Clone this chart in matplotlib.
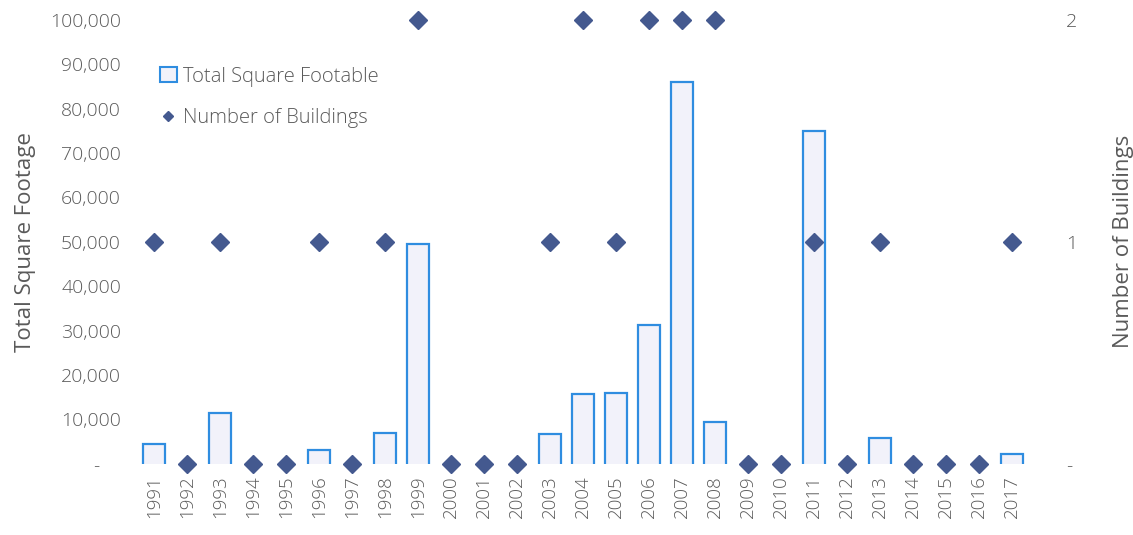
#!/usr/bin/env python3
import matplotlib
matplotlib.use('Agg')
import matplotlib.pyplot as plt
from matplotlib.lines import Line2D
from matplotlib.patches import Patch

years = [str(y) for y in range(1991, 2018)]
square_feet = [4500, 0, 11500, 0, 0, 3200, 0, 7000, 49500, 0, 0, 0,
               6800, 15700, 15900, 31300, 86000, 9500, 0, 0, 75000, 0,
               5800, 0, 0, 0, 2200]
buildings = [1, 0, 1, 0, 0, 1, 0, 1, 2, 0, 0, 0,
             1, 2, 1, 2, 2, 2, 0, 0, 1, 0,
             1, 0, 0, 0, 1]
left_ticks = [0, 10000, 20000, 30000, 40000, 50000, 60000, 70000,
              80000, 90000, 100000]
right_ticks = [0, 1, 2]

plt.rcParams['font.family'] = ['Open Sans', 'DejaVu Sans']
plt.rcParams['font.weight'] = 'light'
text_col = '#5a5a5a'
edge_col = '#2f8de0'
fill_col = '#f2f2fa'
dot_col = '#44598f'

fig = plt.figure(figsize=(11.33, 5.35), dpi=100)
ax = fig.add_axes([0.124, 0.133, 0.785, 0.83])
ax2 = ax.twinx()

x = list(range(len(years)))
w = 0.66
ax.bar(x, square_feet, width=w, color=fill_col, linewidth=0, zorder=1)
# outline without the bottom edge
for xi, h in zip(x, square_feet):
    if h > 0:
        ax.plot([xi - w/2, xi - w/2, xi + w/2, xi + w/2], [0, h, h, 0],
                color=edge_col, lw=1.6, zorder=2, solid_joinstyle='miter')

ax2.plot(x, buildings, linestyle='none', marker='D', markersize=9.5,
         color=dot_col, clip_on=False, zorder=3)

ax.set_xlim(-0.4, 26.55)
ax.set_ylim(0, 100000)
ax2.set_ylim(0, 2)

ax.set_yticks(left_ticks)
ax.set_yticklabels(['-    '] + [f'{v:,}' for v in left_ticks[1:]])
ax2.set_yticks(right_ticks)
ax2.set_yticklabels(['-', '1', '2'])
ax.set_xticks(x)
ax.set_xticklabels(years, rotation=90)

for a in (ax, ax2):
    for s in a.spines.values():
        s.set_visible(False)
ax.tick_params(axis='y', length=0, pad=14, labelsize=14,
               labelcolor=text_col)
ax.tick_params(axis='x', length=0, pad=8, labelsize=13.5,
               labelcolor=text_col)
ax2.tick_params(axis='y', length=0, pad=26, labelsize=14,
                labelcolor=text_col)

ax.set_ylabel('Total Square Footage', fontsize=16, color=text_col,
              labelpad=10)
ax2.set_ylabel('Number of Buildings', fontsize=16, color=text_col,
               labelpad=26)

handles = [Patch(facecolor=fill_col, edgecolor=edge_col, linewidth=1.5),
           Line2D([], [], linestyle='none', marker='D', markersize=5,
                  color=dot_col)]
leg = ax.legend(handles, ['Total Square Footable', 'Number of Buildings'],
                loc='upper left', bbox_to_anchor=(0.002, 0.935),
                frameon=False, fontsize=14.5, labelspacing=1.05,
                handlelength=0.8, handleheight=0.8, handletextpad=0.3)
for t in leg.get_texts():
    t.set_color(text_col)

fig.savefig('out.png', dpi=100)
